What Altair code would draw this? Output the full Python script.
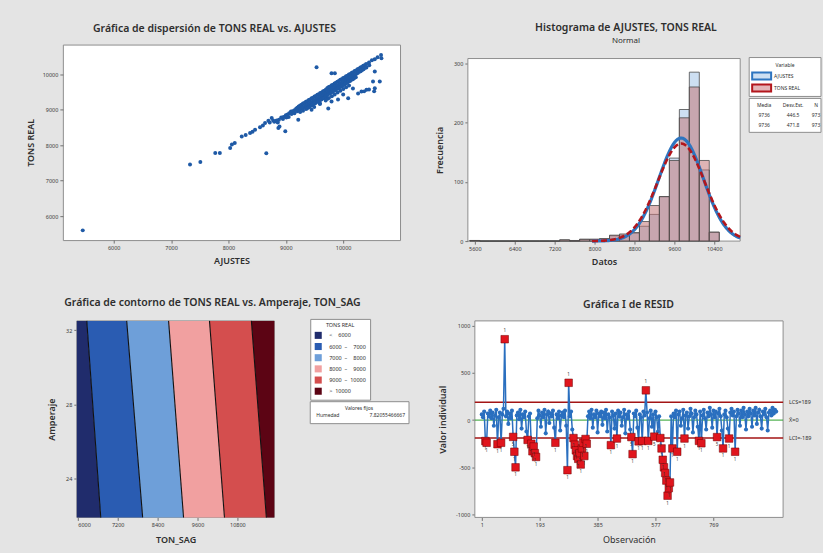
import altair as alt
import pandas as pd

FONT = "Noto Sans"
BG = "#e4e4e4"
FRAME = "#8e8e8e"
INK = "#2e2e2e"
BLUE = "#1f5aa6"

# ---------------- Panel 1: scatter TONS REAL vs AJUSTES ----------------
scatter_sparse = [(5460, 5600), (7330, 7460), (7510, 7530), (7770, 7780), (7850, 7780), (8030, 7920),
                  (8060, 8020), (8110, 8065), (8232, 8250), (8300, 8290), (8377, 8346), (8420, 8380),
                  (8464, 8440), (8550, 8506), (8600, 8560), (8638, 8626), (8696, 8693), (8660, 7775),
                  (8754, 8767), (8720, 8640), (8780, 8700)]
scatter_outliers = [(8870, 8486), (8991, 8393), (9217, 8722), (9536, 10199), (9449, 9003), (9594, 9188),
                    (9797, 9236), (10087, 9329), (10319, 9517), (10406, 9565), (10551, 9610), (10551, 10079),
                    (10638, 9798), (9797, 10031), (9855, 10031), (10000, 9430), (9910, 9290), (9740, 9040),
                    (10170, 9600), (10260, 9460), (10365, 9520), (10450, 9570), (10540, 9520), (10520, 9800),
                    (9440, 9180), (8890, 8530)]
scatter_band_low = [(8800, 8660), (8840, 8700), (8880, 8720), (8920, 8780), (8960, 8800), (9000, 8850),
                    (9030, 8870), (9060, 8900), (9090, 8950), (9120, 8960), (9150, 8990), (9180, 9030),
                    (9200, 9060), (9220, 9070), (8950, 8740), (9050, 8800), (9100, 8880), (9150, 8900),
                    (9200, 8960), (8860, 8640), (9010, 8780)]
scatter_band_mid = [(9225, 9095), (9230, 8990), (9250, 9125), (9255, 9020), (9250, 8935), (9275, 9140),
                    (9280, 9050), (9300, 9175), (9305, 9065), (9300, 8975), (9325, 9190), (9330, 9100),
                    (9350, 9225), (9355, 9115), (9350, 9025), (9375, 9240), (9380, 9150), (9370, 9040),
                    (9400, 9275), (9405, 9165), (9400, 9075), (9425, 9290), (9430, 9200), (9420, 9090),
                    (9450, 9325), (9455, 9215), (9450, 9125), (9475, 9340), (9480, 9250), (9470, 9140),
                    (9500, 9375), (9505, 9265), (9500, 9175), (9495, 9080), (9525, 9390), (9530, 9300),
                    (9520, 9190), (9550, 9425), (9555, 9315), (9550, 9225), (9575, 9440), (9580, 9350),
                    (9570, 9240), (9600, 9475), (9605, 9365), (9600, 9275), (9595, 9165), (9625, 9490),
                    (9630, 9400), (9620, 9290), (9650, 9525), (9655, 9415), (9650, 9325), (9675, 9540),
                    (9680, 9450), (9670, 9340), (9700, 9575), (9705, 9465), (9700, 9375), (9695, 9265)]
scatter_band_high = [(9725, 9615), (9730, 9510), (9720, 9420), (9728, 9310), (9750, 9645), (9755, 9535),
                     (9745, 9445), (9752, 9335), (9775, 9660), (9780, 9570), (9770, 9460), (9800, 9695),
                     (9805, 9585), (9795, 9495), (9802, 9385), (9825, 9710), (9830, 9620), (9820, 9510),
                     (9850, 9745), (9855, 9635), (9845, 9545), (9852, 9435), (9875, 9760), (9880, 9670),
                     (9870, 9560), (9900, 9795), (9905, 9685), (9895, 9595), (9902, 9485), (9925, 9810),
                     (9930, 9720), (9920, 9610), (9950, 9845), (9955, 9735), (9945, 9645), (9952, 9535),
                     (9975, 9860), (9980, 9770), (9970, 9660), (10000, 9895), (10005, 9785), (9995, 9695),
                     (10002, 9585), (10025, 9910), (10030, 9820), (10020, 9710), (10050, 9945), (10055, 9835),
                     (10045, 9745), (10052, 9635), (10075, 9960), (10080, 9870), (10070, 9760), (10100, 9995),
                     (10105, 9885), (10095, 9795), (10102, 9685), (10125, 10010), (10130, 9920), (10120, 9810),
                     (10150, 10045), (10155, 9935), (10145, 9845), (10175, 10060), (10180, 9970), (10170, 9860),
                     (10200, 10095), (10205, 9985), (10195, 9895), (10225, 10110), (10230, 10020), (10220, 9920),
                     (10250, 10145), (10255, 10035), (10275, 10160), (10280, 10070), (10300, 10195),
                     (10305, 10085), (10325, 10210), (10330, 10125), (10350, 10245), (10355, 10145),
                     (10375, 10260), (10380, 10185), (10400, 10295), (10405, 10195), (10450, 10335),
                     (10455, 10255), (10500, 10395), (10550, 10425), (10600, 10485), (10660, 10545),
                     (10667, 10452)]

# ---------------- Panel 2: histogram ----------------
hist_bins = [5600, 5800, 6000, 6200, 6400, 6600, 6800, 7000, 7200, 7400, 7600, 7800, 8000,
             8200, 8400, 8600, 8800, 9000, 9200, 9400, 9600, 9800, 10000, 10200, 10400]
hist_ajustes = [1, 0, 0, 0, 0, 0, 0, 0, 0, 2, 0, 3, 3, 4, 9, 10, 14, 25, 45, 75, 140, 222, 285, 120, 15]
hist_tons = [1, 0, 0, 0, 0, 0, 0, 0, 0, 2, 1, 3, 3, 4, 10, 12, 14, 33, 60, 75, 136, 208, 260, 136, 15]
fit_names = ["AJUSTES", "TONS REAL"]
fit_mean = [9736, 9736]
fit_sd = [446.5, 471.8]
fit_n = [973, 973]

# ---------------- Panel 3: contour ----------------
contour_levels = ["\u2007\u2007\u2007\u2007\u00a0\u00a0<\u00a0\u00a0\u20076000",
                  "6000\u00a0\u00a0\u2013\u00a0\u00a0\u20077000",
                  "7000\u00a0\u00a0\u2013\u00a0\u00a0\u20078000",
                  "8000\u00a0\u00a0\u2013\u00a0\u00a0\u20079000",
                  "9000\u00a0\u00a0\u2013\u00a0\u00a010000",
                  "\u2007\u2007\u2007\u2007\u00a0\u00a0>\u00a0\u00a010000"]
contour_colors = ["#202c6c", "#2a5cb2", "#6e9fd9", "#f1a0a0", "#d44e4e", "#5c0414"]
bound_top = [6270, 7470, 8730, 9960, 11220]     # TON_SAG where level changes, Amperaje = top
bound_bot = [6690, 7950, 9180, 10410, 11670]    # TON_SAG where level changes, Amperaje = bottom
ton_sag_range = [5970, 11910]
amperaje_range = [21.9, 32.5]
fixed_name = "Humedad"
fixed_value = "7.82055466667"

# ---------------- Panel 4: I chart of residuals ----------------
resid = [
    60, 30, 90, -222, -240, 70, 40, 100, 20, 80,
    -60, 50, 110, -255, 30, 80, -240, 60, 120, 856,
    40, 90, -40, 70, 20, 100, -178, -335, -500, 50,
    80, 10, 110, -90, 60, 30, 90, -120, -210, 40,
    70, -250, -330, -280, -350, -390, 20, 100, 50, -70,
    80, 30, 110, -140, 60, 90, -30, 70, 40, 100,
    -80, -240, 60, 20, 90, -110, 50, 80, 30, 100,
    -60, -530, 395, 40, 90, -100, -190, -260, -320, -380,
    -410, -350, -470, -300, -240, -380, -200, -250, 40, 90,
    20, 110, -80, 60, 30, 100, -130, 70, 40, 90,
    -50, 80, 20, 110, -120, 60, 30, -265, 90, 50,
    -90, 70, -195, 100, 40, 80, -60, 30, 110, -140,
    60, 20, 90, -100, -180, -360, 70, 40, 100, -80,
    -225, 60, 30, -220, 90, 50, 315, 80, -220, 20,
    100, -70, 60, -175, 90, 30, -120, 40, -190, -300,
    -420, -500, -560, -640, -800, -720, -660, 40, -300, 70,
    30, 100, -335, 60, 90, -60, 20, 110, -195, 50,
    80, -90, 40, 120, 70, -130, 30, 100, 60, -70,
    -220, 90, -245, 50, 110, 20, -100, 80, 40, 130,
    60, -80, 100, 30, 90, -180, 70, 120, 40, -110,
    -300, 60, 100, 30, -90, -195, 80, 120, 50, 90,
    -335, 40, 110, 70, -60, 100, 30, 130, 60, -100,
    90, 40, 120, 70, -70, 100, 50, 130, -40, 80,
    110, 40, -90, 90, 60, 120, 30, -110, 80, 100,
    50, 130, 70, 110, 90,
]
obs = [1 + 4 * i for i in range(len(resid))]
limit_values = [189, -189]
limit_labels = ["LCS=189", "LCI=-189"]
center_value = [0]
center_label = ["X\u0304=0"]

# =====================================================================
one = pd.DataFrame({"k": [0]})
panel_view = alt.ViewBackground(fill="white", stroke=FRAME, strokeWidth=1)
no_view = alt.ViewBackground(stroke="transparent")


def note(s, x, y, size=5.5, align="center", weight="normal", color=INK):
    return alt.Chart(one).mark_text(text=s, font=FONT, fontSize=size, fontWeight=weight,
                                    align=align, baseline="middle", color=color).encode(
        x=alt.value(x), y=alt.value(y))


def box(x, x2, y, y2, fill="white", stroke=FRAME, sw=1.0):
    return alt.Chart(one).mark_rect(fill=fill, stroke=stroke, strokeWidth=sw).encode(
        x=alt.value(x), x2=alt.value(x2), y=alt.value(y), y2=alt.value(y2))


def spacer(w, h):
    return alt.Chart(one).mark_rect(opacity=0).encode(
        x=alt.value(0), x2=alt.value(1), y=alt.value(0), y2=alt.value(1)
    ).properties(width=w, height=h, view=no_view)


# ---------- P1 (cell 338x197 at 62,43) ----------
pts = scatter_sparse + scatter_outliers + scatter_band_low + scatter_band_mid + scatter_band_high
scatter_df = pd.DataFrame(pts, columns=["ajustes", "tons"])
sx = alt.Scale(domain=[5113, 10991], nice=False, zero=False)
sy = alt.Scale(domain=[5326, 10840], nice=False, zero=False)
p1 = alt.Chart(scatter_df).mark_circle(size=16, color=BLUE, opacity=1).encode(
    x=alt.X("ajustes:Q", scale=sx, axis=alt.Axis(values=[6000, 7000, 8000, 9000, 10000], format="d",
                                                    title="AJUSTES", titlePadding=6)),
    y=alt.Y("tons:Q", scale=sy, axis=alt.Axis(values=[6000, 7000, 8000, 9000, 10000], format="d",
                                                 title="TONS REAL", titlePadding=7)),
).properties(width=338, height=196, view=panel_view,
             title=alt.TitleParams("Gráfica de dispersión de TONS REAL vs. AJUSTES", dx=-17, offset=10))

# ---------- P2 (cell 273x197 at 468,43; plot rows 14..197) ----------
hx = alt.Scale(domain=[5460, 10920], nice=False, zero=False)
hy = alt.Scale(domain=[0, 308], nice=False, zero=False, range=[197, 14])
hist_df = pd.DataFrame({"center": hist_bins, "aj": hist_ajustes, "tr": hist_tons})
hbase = alt.Chart(hist_df).transform_calculate(lo="datum.center - 100", hi="datum.center + 100")
bars_a = hbase.mark_rect(fill="#cddff2", stroke="#4a4a4a", strokeWidth=0.8).encode(
    x=alt.X("lo:Q", scale=hx, axis=alt.Axis(values=[5600, 6400, 7200, 8000, 8800, 9600, 10400], format="d",
                                               title="Datos", titlePadding=6)),
    x2="hi:Q",
    y=alt.Y("aj:Q", scale=hy, axis=alt.Axis(values=[0, 100, 200, 300], title="Frecuencia", titlePadding=9)),
    y2=alt.datum(0),
)
bars_t = hbase.mark_rect(fill="#c27679", fillOpacity=0.55, stroke="#4a4a4a", strokeWidth=0.8).encode(
    x=alt.X("lo:Q", scale=hx), x2="hi:Q", y=alt.Y("tr:Q", scale=hy), y2=alt.datum(0))

curve_layers = []
curve_style = [dict(color="#2e75c0", strokeWidth=3.2),
               dict(color="#b3161c", strokeWidth=2.6, strokeDash=[6, 3])]
for m, sd, n, st in zip(fit_mean, fit_sd, fit_n, curve_style):
    curve_layers.append(
        alt.Chart(alt.sequence(7950, 10921, 10, as_="x"))
        .transform_calculate(f=f"{n} * 200 * densityNormal(datum.x, {m}, {sd})")
        .mark_line(**st)
        .encode(x=alt.X("x:Q", scale=hx), y=alt.Y("f:Q", scale=hy))
    )

leg2 = [
    box(282, 354, 13, 52),
    note("Variable", 318, 20, size=5),
    box(285, 304, 28, 35, fill="#cddff2", stroke="#2e75c0", sw=2),
    note(fit_names[0], 307, 31.5, size=5, align="left"),
    box(285, 304, 40, 47, fill="#e4b5b8", stroke="#b3161c", sw=2),
    note(fit_names[1], 307, 43.5, size=5, align="left"),
    box(282, 354, 54, 88),
    note("Media", 297, 61, size=5),
    note("Desv.Est.", 326, 61, size=5),
    note("N", 349, 61, size=5),
    note(str(fit_mean[0]), 297, 71, size=5),
    note(str(fit_sd[0]), 326, 71, size=5),
    note(str(fit_n[0]), 349, 71, size=5),
    note(str(fit_mean[1]), 297, 81, size=5),
    note(str(fit_sd[1]), 326, 81, size=5),
    note(str(fit_n[1]), 349, 81, size=5),
]
p2 = alt.layer(box(0, 273, 14, 197), bars_a, bars_t, *curve_layers, *leg2).properties(
    width=273, height=197, view=no_view,
    title=alt.TitleParams("Histograma de AJUSTES, TONS REAL", subtitle="Normal", dx=22, offset=0,
                          subtitleFont=FONT, subtitleFontSize=8, subtitleColor=INK, subtitlePadding=3))

# ---------- P3 (cell 338x197 at 62,320; plot cols 14..212) ----------
cx = alt.Scale(domain=ton_sag_range, nice=False, zero=False, range=[14, 212])
cy = alt.Scale(domain=amperaje_range, nice=False, zero=False)
edges_top = [ton_sag_range[0]] + bound_top + [ton_sag_range[1]]
edges_bot = [ton_sag_range[0]] + bound_bot + [ton_sag_range[1]]
band_rows = []
for k, lev in enumerate(contour_levels):
    band_rows.append(dict(band=lev, amp=amperaje_range[1], left=edges_top[k], right=edges_top[k + 1]))
    band_rows.append(dict(band=lev, amp=amperaje_range[0], left=edges_bot[k], right=edges_bot[k + 1]))
band_df = pd.DataFrame(band_rows)
line_rows = []
for k in range(len(bound_top)):
    line_rows.append(dict(bid=k, amp=amperaje_range[1], ts=bound_top[k]))
    line_rows.append(dict(bid=k, amp=amperaje_range[0], ts=bound_bot[k]))
line_df = pd.DataFrame(line_rows)

bands = alt.Chart(band_df).mark_area(orient="horizontal", opacity=1).encode(
    y=alt.Y("amp:Q", scale=cy, axis=alt.Axis(values=[24, 28, 32], title="Amperaje", titlePadding=9, offset=-14)),
    x=alt.X("left:Q", scale=cx, stack=False,
            axis=alt.Axis(values=[6000, 7200, 8400, 9600, 10800], format="d", title="TON_SAG", titlePadding=8)),
    x2="right:Q",
    color=alt.Color("band:N", scale=alt.Scale(domain=contour_levels, range=contour_colors),
                    legend=alt.Legend(orient="none", legendX=310, legendY=318, title="TONS REAL",
                                      titleFont=FONT, titleFontSize=5.5, titleFontWeight="normal",
                                      titleColor=INK, titleAnchor="middle", titlePadding=3,
                                      labelFont=FONT, labelFontSize=5.5, labelColor=INK, labelOffset=7,
                                      symbolType="square", symbolSize=50, symbolStrokeWidth=0,
                                      symbolOpacity=1, rowPadding=3.2, padding=4,
                                      strokeColor=FRAME, fillColor="white")),
)
blines = alt.Chart(line_df).mark_line(color="#111111", strokeWidth=1.1).encode(
    x=alt.X("ts:Q", scale=cx), y=alt.Y("amp:Q", scale=cy), detail="bid:N")
fixed_box = [
    box(248, 347, 81, 103),
    note("Valores fijos", 297, 87, size=5),
    note(fixed_name, 254, 94, size=5, align="left"),
    note(fixed_value, 343, 94, size=5, align="right"),
]
p3 = alt.layer(box(14, 212, 0, 197), bands, blines, *fixed_box).properties(
    width=338, height=197, view=no_view,
    title=alt.TitleParams("Gráfica de contorno de TONS REAL vs. Amperaje, TON_SAG", dx=-19, offset=10))

# ---------- P4 (cell 316x197 at 468,320; plot cols 7..316) ----------
rx = alt.Scale(domain=[-22, 1000], nice=False, zero=False, range=[7, 316])
ry = alt.Scale(domain=[-1030, 1050], nice=False, zero=False)
res_df = pd.DataFrame({"obs": obs, "resid": resid})
lim_df = pd.DataFrame({"v": limit_values, "name": limit_labels})
ctr_df = pd.DataFrame({"v": center_value, "name": center_label})

lim_rules = alt.Chart(lim_df).mark_rule(color="#a31515", strokeWidth=1.5).encode(
    x=alt.value(7), x2=alt.value(316), y=alt.Y("v:Q", scale=ry))
ctr_rule = alt.Chart(ctr_df).mark_rule(color="#2aa02a", strokeWidth=1).encode(
    x=alt.value(7), x2=alt.value(316), y=alt.Y("v:Q", scale=ry))
res_line = alt.Chart(res_df).mark_line(
    color="#2a6fbf", strokeWidth=1.5,
    point=alt.OverlayMarkDef(filled=True, size=17, color="#2a6fbf")).encode(
    x=alt.X("obs:Q", scale=rx, axis=alt.Axis(values=[1, 97, 193, 289, 385, 481, 577, 673, 769, 865],
                                                title="Observación", titlePadding=8, titleFontWeight="normal")),
    y=alt.Y("resid:Q", scale=ry, axis=alt.Axis(values=[-1000, -500, 0, 500, 1000], labelExpr="'' + datum.value",
                                                  title="Valor individual", titlePadding=8, offset=-7)),
)
flag = alt.Chart(res_df).transform_filter("abs(datum.resid) >= 170")
red_sq = flag.mark_square(size=58, color="#e0151d", opacity=1, stroke="#6d0000", strokeWidth=0.5).encode(
    x=alt.X("obs:Q", scale=rx), y=alt.Y("resid:Q", scale=ry))
lab_calc = "abs(datum.resid) > 189 ? '1' : '5'"
red_lab_dn = flag.transform_filter("datum.resid < 0").transform_calculate(t=lab_calc).mark_text(
    dy=8, fontSize=4.5, font=FONT, color="#3a3a3a").encode(
    x=alt.X("obs:Q", scale=rx), y=alt.Y("resid:Q", scale=ry), text="t:N")
red_lab_up = flag.transform_filter("datum.resid > 0").transform_calculate(t=lab_calc).mark_text(
    dy=-8, fontSize=4.5, font=FONT, color="#3a3a3a").encode(
    x=alt.X("obs:Q", scale=rx), y=alt.Y("resid:Q", scale=ry), text="t:N")
lim_txt = alt.Chart(pd.concat([lim_df, ctr_df])).mark_text(
    align="left", baseline="middle", fontSize=5.5, font=FONT, color=INK).encode(
    x=alt.value(322), y=alt.Y("v:Q", scale=ry), text="name:N")
p4 = alt.layer(box(7, 316, 0, 197), ctr_rule, lim_rules, res_line, red_sq, red_lab_dn, red_lab_up,
               lim_txt).properties(
    width=316, height=197, view=no_view,
    title=alt.TitleParams("Gráfica I de RESID", dx=3, offset=10))

# ---------- layout: aligned 4-column grid, flush bounds ----------
cells = [
    spacer(62, 43), spacer(338, 43), spacer(68, 43), spacer(316, 43),
    spacer(62, 197), p1, spacer(68, 197), p2,
    spacer(62, 80), spacer(338, 80), spacer(68, 80), spacer(316, 80),
    spacer(62, 197), p3, spacer(68, 197), p4,
    spacer(62, 36), spacer(338, 36), spacer(68, 36), spacer(355, 36),
]
chart = alt.concat(*cells, columns=4, spacing=0, bounds="flush").properties(
    background=BG, padding=0, autosize=alt.AutoSizeParams(type="pad")
).configure_view(stroke="transparent").configure_axis(
    labelFont=FONT, labelFontSize=5.5, labelColor="#3a3a3a", labelPadding=2,
    tickColor="#555555", tickSize=3, tickWidth=0.8, domain=False, grid=False,
    titleFont=FONT, titleFontSize=9, titleFontWeight=600, titleColor=INK,
).configure_title(font=FONT, fontSize=10.5, fontWeight=600, color=INK, anchor="middle")

chart.save("out.html", embed_options={"renderer": "svg", "actions": False})
